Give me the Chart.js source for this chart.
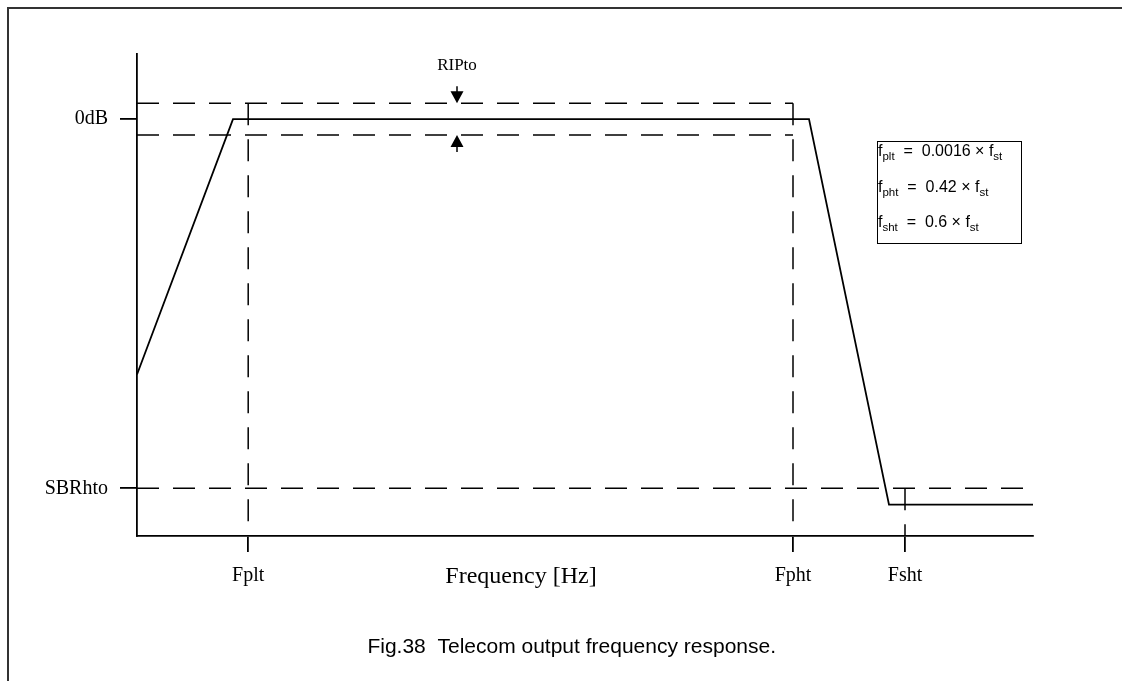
<!DOCTYPE html>
<html>
<head>
<meta charset="utf-8">
<script src="https://cdn.jsdelivr.net/npm/chart.js@4"></script>
<style>
  body { margin: 0; background: #fff; }
  #wrap { position: relative; width: 1122px; height: 681px; }
  #legendBox {
    position: absolute; left: 877px; top: 141px; width: 145px; height: 103px;
    box-sizing: border-box; border: 1.5px solid #000;
    font-family: "Liberation Sans", Arial, sans-serif; font-size: 16px; color: #000;
  }
  #legendBox div { position: absolute; left: 0px; white-space: pre; }
  #legendBox sub { font-size: 11.5px; vertical-align: -4px; line-height: 0; }
</style>
</head>
<body>
<div id="wrap">
  <canvas id="myChart" width="1122" height="681"></canvas>
  <div id="legendBox">
    <div style="top:0px">f<sub>plt</sub>  =  0.0016 × f<sub>st</sub></div>
    <div style="top:36px">f<sub>pht</sub>  =  0.42 × f<sub>st</sub></div>
    <div style="top:71px">f<sub>sht</sub>  =  0.6 × f<sub>st</sub></div>
  </div>
</div>
<script>
// frequency axis in arbitrary units, gain in dB
const freqPoints = [0, 12, 84, 94, 112];
const gainDb = [-53, 0, 0, -80, -80];

const xTickValues = [13.9, 82, 96];
const xTickLabels = ['Fplt', 'Fpht', 'Fsht'];
const yTickValues = [-76.6, 0];
const yTickLabels = ['SBRhto', '0dB'];

const ripple = 3.3;
const sbr = -76.6;
const xMin = 0, xMax = 112;
const yMin = -86.5, yMax = 13.5;

const dash = [22, 14];

function seg(x1, y1, x2, y2) {
    return [{x: x1, y: y1}, {x: x2, y: y2}];
}

function dashed(data) {
    return {
        data: data,
        borderColor: '#000',
        borderWidth: 1.5,
        borderDash: dash,
        pointRadius: 0,
        fill: false
    };
}

const decorations = {
    id: 'decorations',
    afterDraw(chart) {
        const c = chart.ctx;
        const xs = chart.scales.x, ys = chart.scales.y;
        c.save();
        // outer frame
        c.fillStyle = '#333';
        c.fillRect(8, 7, 1114, 2);
        c.fillRect(7, 7, 2, 674);

        c.fillStyle = '#000';
        c.textAlign = 'center';
        c.textBaseline = 'middle';
        // axis title
        c.font = '24px "Liberation Serif", "Times New Roman", serif';
        c.fillText('Frequency [Hz]', xs.getPixelForValue(48), 577);

        // ripple label and arrows
        const ax = xs.getPixelForValue(40);
        const top = ys.getPixelForValue(ripple);
        const bot = ys.getPixelForValue(-ripple);
        c.font = '17px "Liberation Serif", "Times New Roman", serif';
        c.fillText('RIPto', ax, 66);
        c.strokeStyle = '#000';
        c.lineWidth = 1.5;
        c.beginPath();
        c.moveTo(ax, top - 17); c.lineTo(ax, top - 10);
        c.moveTo(ax, bot + 10); c.lineTo(ax, bot + 17);
        c.stroke();
        c.beginPath();
        c.moveTo(ax - 6.5, top - 12); c.lineTo(ax + 6.5, top - 12); c.lineTo(ax, top); c.closePath();
        c.moveTo(ax - 6.5, bot + 12); c.lineTo(ax + 6.5, bot + 12); c.lineTo(ax, bot); c.closePath();
        c.fill();

        // caption
        c.font = '21px "Liberation Sans", Arial, sans-serif';
        c.textAlign = 'right';
        c.fillText('Fig.38  Telecom output frequency response.', 776, 647);
        c.restore();
    }
};

const serif = {family: '"Liberation Serif", "Times New Roman", serif', size: 20};

const ctx = document.getElementById('myChart').getContext('2d');
const myChart = new Chart(ctx, {
    type: 'line',
    data: {
        datasets: [
            {
                data: freqPoints.map((f, i) => ({x: f, y: gainDb[i]})),
                borderColor: '#000',
                borderWidth: 1.8,
                pointRadius: 0,
                tension: 0,
                fill: false
            },
            dashed(seg(xMin, ripple, xTickValues[1], ripple)),
            dashed(seg(xMin, -ripple, xTickValues[1], -ripple)),
            dashed(seg(xTickValues[0], ripple, xTickValues[0], yMin)),
            dashed(seg(xTickValues[1], ripple, xTickValues[1], yMin)),
            dashed(seg(xTickValues[2], sbr, xTickValues[2], yMin)),
            dashed(seg(xMin, sbr, xMax, sbr))
        ]
    },
    options: {
        responsive: false,
        animation: false,
        clip: false,
        layout: {padding: {top: 54, right: 89, left: 0, bottom: 0}},
        plugins: {legend: {display: false}, tooltip: {enabled: false}},
        scales: {
            x: {
                type: 'linear',
                min: xMin,
                max: xMax,
                afterFit: (s) => { s.height = 145; },
                afterBuildTicks: (s) => { s.ticks = xTickValues.map(v => ({value: v})); },
                grid: {drawOnChartArea: false, tickLength: 16, color: '#000', lineWidth: 1.8},
                border: {display: true, color: '#000', width: 1.8},
                ticks: {
                    autoSkip: false,
                    maxRotation: 0,
                    padding: 12,
                    color: '#000',
                    font: serif,
                    callback: (v, i) => xTickLabels[i]
                }
            },
            y: {
                type: 'linear',
                min: yMin,
                max: yMax,
                afterFit: (s) => { s.width = 137; },
                afterBuildTicks: (s) => { s.ticks = yTickValues.map(v => ({value: v})); },
                grid: {drawOnChartArea: false, tickLength: 17, color: '#000', lineWidth: 1.8},
                border: {display: true, color: '#000', width: 1.8},
                ticks: {
                    autoSkip: false,
                    padding: 12,
                    color: '#000',
                    font: serif,
                    callback: (v, i) => yTickLabels[i]
                }
            }
        }
    },
    plugins: [decorations]
});
</script>
</body>
</html>
